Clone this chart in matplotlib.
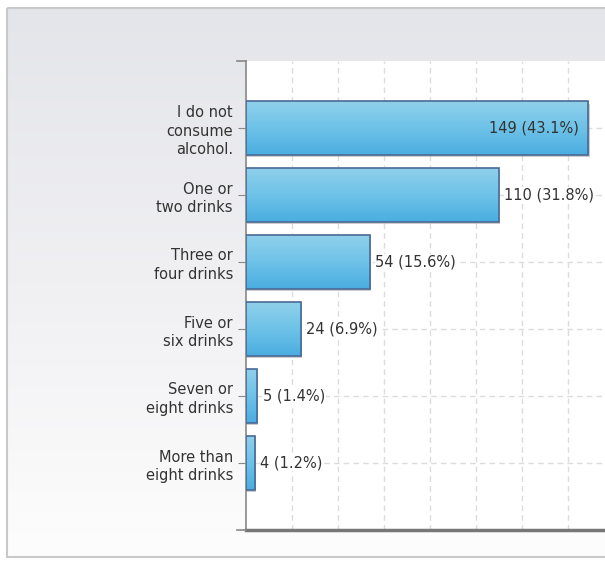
import numpy as np
import matplotlib.pyplot as plt
from matplotlib.patches import Rectangle
from matplotlib.colors import LinearSegmentedColormap

categories = [
    "I do not\nconsume\nalcohol.",
    "One or\ntwo drinks",
    "Three or\nfour drinks",
    "Five or\nsix drinks",
    "Seven or\neight drinks",
    "More than\neight drinks",
]
counts = [149, 110, 54, 24, 5, 4]
percents = [43.1, 31.8, 15.6, 6.9, 1.4, 1.2]

plt.rcParams['font.family'] = ['DejaVu Sans']

W, H = 605, 561
fig = plt.figure(figsize=(W / 100, H / 100), dpi=100)
fig.patch.set_facecolor("white")

# panel background with soft vertical gradient
bg = fig.add_axes([0, 0, 1, 1], zorder=0)
bg.set_xlim(0, W)
bg.set_ylim(H, 0)
bg.axis("off")
grad = np.linspace(0, 1, 256).reshape(-1, 1)
bgcmap = LinearSegmentedColormap.from_list("bg", ["#e4e5ea", "#f0f0f3", "#fdfdfd"])
bg.imshow(grad, cmap=bgcmap, extent=[7, W + 5, 556, 8], aspect="auto")
bg.add_patch(Rectangle((6.5, 7.5), W, 549, fill=False, edgecolor="#c9c9c9", lw=1.5))

# chart axes
left_px, top_px, bot_px = 245.5, 61, 530
px_per_unit = 2.3
xmax = 160
ax = fig.add_axes([left_px / W, 1 - bot_px / H, xmax * px_per_unit / W, (bot_px - top_px) / H], zorder=1)
ax.set_facecolor("white")

y = np.arange(len(categories))
ax.set_xticks(np.arange(20, xmax, 20))
ax.set_yticks(y)
ax.set_yticklabels(categories, fontsize=10.5, color="#333333", linespacing=1.3)
ax.tick_params(axis="x", length=0, labelbottom=False)
ax.tick_params(axis="y", length=6, color="#888888", pad=3)
ax.grid(True, color="#dcdcdc", linestyle=(0, (4, 3)), lw=1)
ax.set_axisbelow(True)
for s in ["top", "right"]:
    ax.spines[s].set_visible(False)
ax.spines["left"].set_color("#888888")
ax.spines["left"].set_linewidth(1.2)
ax.spines["bottom"].set_color("#777777")
ax.spines["bottom"].set_linewidth(2.5)

# extra ticks at top/bottom of the category axis
for yy in (-1, 6):
    ax.plot([-3.5, 0], [yy, yy], color="#888888", lw=1.2, clip_on=False, zorder=3)

barcmap = LinearSegmentedColormap.from_list("bar", ["#8fd0ea", "#6ec2e8", "#4aade0"])
h = 0.8
for i, (c, p) in enumerate(zip(counts, percents)):
    # shadow
    ax.add_patch(Rectangle((0.6, i - h / 2 + 0.04), c, h, facecolor="#9a9a9a", alpha=0.5,
                           edgecolor="none", zorder=2))
    ax.imshow(grad, cmap=barcmap, extent=[0, c, i + h / 2, i - h / 2], aspect="auto", zorder=3)
    ax.add_patch(Rectangle((0, i - h / 2), c, h, fill=False, edgecolor="#4a6a96", lw=1.2, zorder=4))
    label = f"{c} ({p}%)"
    if c > 130:
        ax.text(c - 4, i, label, ha="right", va="center", fontsize=10.5, color="#333333", zorder=5)
    else:
        ax.text(c + 2.5, i, label, ha="left", va="center", fontsize=10.5, color="#333333", zorder=5,
                bbox=dict(facecolor="white", edgecolor="none", pad=0.5))

ax.set_xlim(0, xmax)
ax.set_ylim(6, -1)
ax.set_aspect("auto")

fig.savefig("out.png", dpi=100)
